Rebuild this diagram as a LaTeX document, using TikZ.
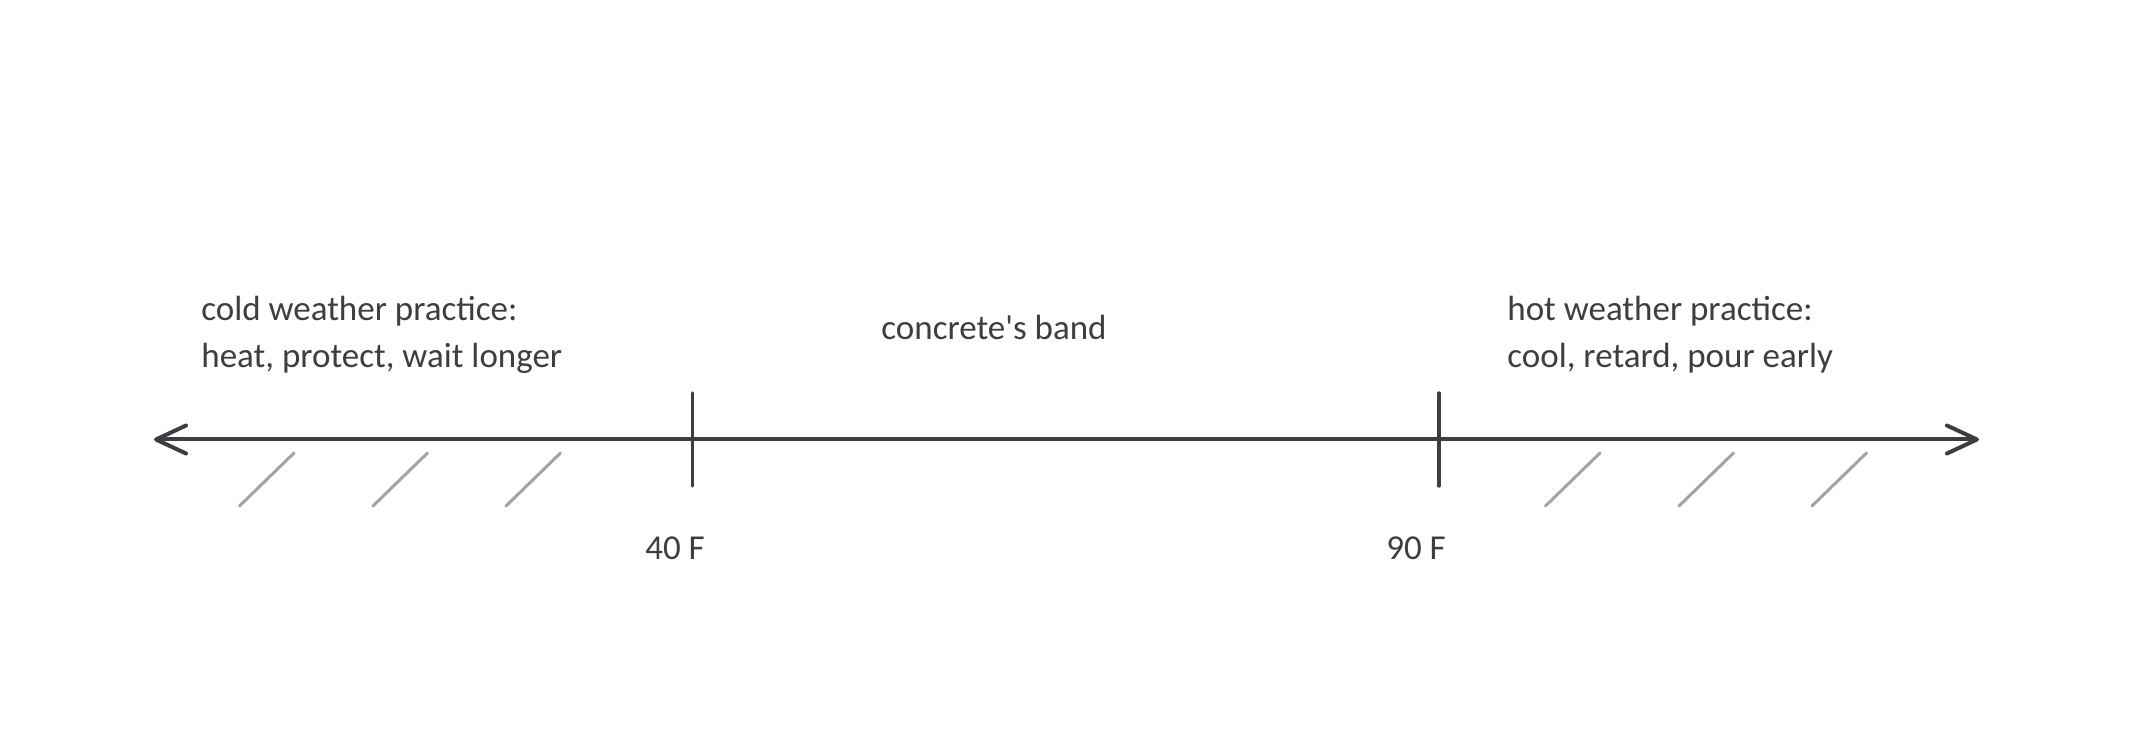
\documentclass[tikz,border=0pt]{standalone}
\usepackage{fontspec}
\newfontfamily\handfont{Carlito}
\usetikzlibrary{arrows.meta}
\definecolor{ink}{HTML}{3D3D42}
\definecolor{hatch}{HTML}{A3A3A3}
\tikzset{
  axisline/.style={draw=ink, line width=2pt, line cap=round,
    {Straight Barb[length=15pt,width=14pt,line cap=round,line join=round]}-{Straight Barb[length=15pt,width=14pt,line cap=round,line join=round]}},
  tickline/.style={draw=ink, line width=1.7pt, line cap=round},
  hatchline/.style={draw=hatch, line width=1.5pt, line cap=round},
  lbl/.style={text=ink, font=\handfont\fontsize{17.5pt}{20pt}\selectfont, inner sep=0pt},
}
\begin{document}
\begin{tikzpicture}[x=0.5pt,y=-0.5pt]
\useasboundingbox (0,0) rectangle (2133,747);
% axis
\coordinate (L) at (154,439.5);
\coordinate (R) at (1979,439.5);
\draw[axisline] (L) -- (R);
% ticks
\coordinate (t40a) at (692.5,393);
\coordinate (t40b) at (692.5,486);
\coordinate (t90a) at (1439,393);
\coordinate (t90b) at (1439,486);
\draw[tickline] (t40a) -- (t40b);
\draw[tickline] (t90a) -- (t90b);
% hatches
\foreach \x [count=\i] in {239.5,373,506,1545.5,1679,1812}{
  \coordinate (h\i a) at (\x,506);
  \coordinate (h\i b) at (\x+54.5,453);
  \draw[hatchline] (h\i a) -- (h\i b);
}
% labels
\node[lbl, anchor=base west] (cold1) at (201,321) {cold weather practice:};
\node[lbl, anchor=base west] (cold2) at (201,368) {heat, protect, wait longer};
\node[lbl, anchor=base west] (hot1) at (1507,321) {hot weather practice:};
\node[lbl, anchor=base west] (hot2) at (1507,368) {cool, retard, pour early};
\node[lbl, anchor=base] (band) at (994,340) {concrete's band};
\node[lbl, anchor=base] (f40) at (675,560) {40 F};
\node[lbl, anchor=base] (f90) at (1416,560) {90 F};
\end{tikzpicture}
\end{document}
